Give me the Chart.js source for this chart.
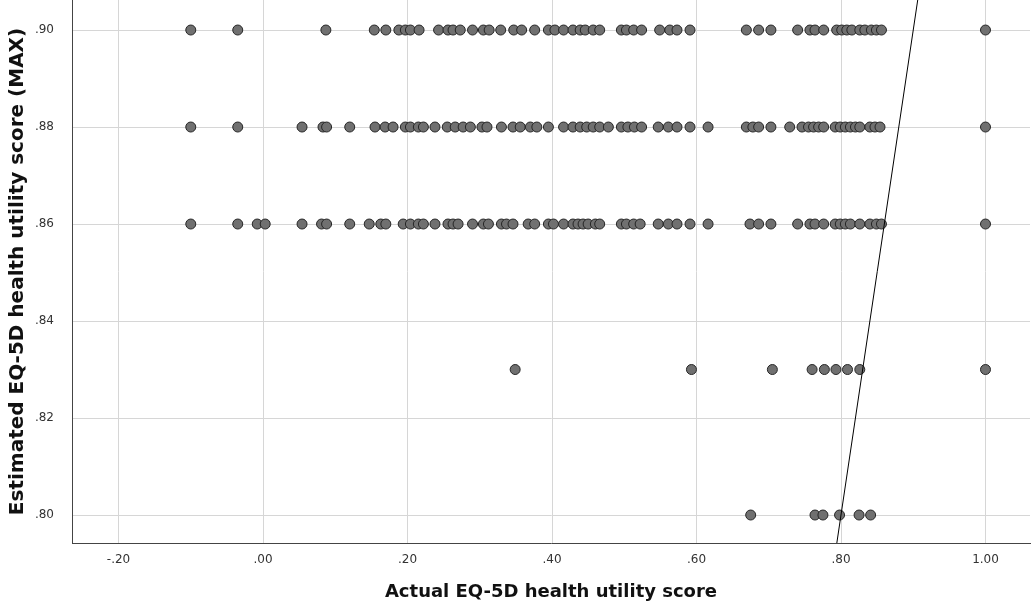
<!DOCTYPE html>
<html>
<head>
<meta charset="utf-8">
<script src="https://cdn.jsdelivr.net/npm/chart.js@4"></script>
<style>
  body { margin: 0; background: #fff; }
  #wrap { width: 1033px; height: 608px; }
</style>
</head>
<body>
<div id="wrap"><canvas id="scatter"></canvas></div>
<script>
// actual score (x) for each estimated score level (y)
var xAt90 = [-0.10, -0.035, 0.087, 0.154, 0.170, 0.188, 0.197, 0.204, 0.216, 0.243, 0.256, 0.263, 0.273, 0.290, 0.305, 0.313,
    0.329, 0.347, 0.358, 0.376, 0.395, 0.404, 0.416, 0.429, 0.439, 0.446, 0.457, 0.466, 0.496, 0.503, 0.513, 0.524,
    0.549, 0.563, 0.573, 0.591, 0.669, 0.686, 0.703, 0.740, 0.757, 0.764, 0.776, 0.794, 0.801, 0.808, 0.815, 0.826,
    0.833, 0.842, 0.849, 0.856, 1.00];
var xAt88 = [-0.10, -0.035, 0.054, 0.083, 0.088, 0.120, 0.155, 0.169, 0.180, 0.197, 0.204, 0.215, 0.222, 0.238, 0.255,
    0.266, 0.277, 0.287, 0.303, 0.310, 0.330, 0.346, 0.356, 0.370, 0.379, 0.395, 0.416, 0.429, 0.439, 0.448, 0.457,
    0.466, 0.478, 0.496, 0.505, 0.514, 0.524, 0.547, 0.561, 0.573, 0.591, 0.616, 0.669, 0.678, 0.686, 0.703, 0.729,
    0.746, 0.755, 0.762, 0.769, 0.776, 0.792, 0.799, 0.806, 0.813, 0.820, 0.826, 0.840, 0.847, 0.854, 1.00];
var xAt86 = [-0.10, -0.035, -0.008, 0.003, 0.054, 0.081, 0.088, 0.120, 0.147, 0.163, 0.170, 0.194, 0.204, 0.215, 0.222,
    0.238, 0.256, 0.263, 0.270, 0.290, 0.305, 0.312, 0.330, 0.337, 0.346, 0.367, 0.376, 0.395, 0.402, 0.416, 0.429,
    0.436, 0.443, 0.450, 0.460, 0.466, 0.496, 0.503, 0.513, 0.522, 0.547, 0.561, 0.573, 0.591, 0.616, 0.674, 0.686,
    0.703, 0.740, 0.757, 0.764, 0.776, 0.792, 0.799, 0.806, 0.813, 0.826, 0.840, 0.849, 0.856, 1.00];
var xAt83 = [0.349, 0.593, 0.705, 0.760, 0.777, 0.793, 0.809, 0.826, 1.00];
var xAt80 = [0.675, 0.764, 0.775, 0.798, 0.825, 0.841];
var levels = [0.90, 0.88, 0.86, 0.83, 0.80];
var rows = [xAt90, xAt88, xAt86, xAt83, xAt80];

// y = x reference line
var refLine = [{x: 0.70, y: 0.70}, {x: 1.00, y: 1.00}];

var xTicks = [-0.20, 0.00, 0.20, 0.40, 0.60, 0.80, 1.00];
var yTicks = [0.80, 0.82, 0.84, 0.86, 0.88, 0.90];

var pts = [];
rows.forEach(function(r, i) {
    r.forEach(function(v) { pts.push({x: v, y: levels[i]}); });
});

function fmt(v) {
    var s = Math.abs(v).toFixed(2);
    if (s.charAt(0) === '0') s = s.substring(1);
    return (v < -1e-9 ? '-' : '') + s;
}

var tickFont = {family: 'DejaVu Sans', size: 12};

new Chart(document.getElementById('scatter'), {
    type: 'scatter',
    data: {
        datasets: [{
            data: refLine,
            showLine: true,
            borderColor: '#000',
            borderWidth: 1,
            pointRadius: 0,
            fill: false
        }, {
            data: pts,
            pointRadius: 5,
            pointHoverRadius: 5,
            pointBackgroundColor: '#707070',
            pointBorderColor: '#262626',
            pointBorderWidth: 1
        }]
    },
    options: {
        responsive: true,
        maintainAspectRatio: false,
        animation: false,
        layout: {autoPadding: false, padding: {left: 0, right: 3, top: 0, bottom: 0}},
        plugins: {legend: {display: false}, tooltip: {enabled: false}},
        scales: {
            x: {
                type: 'linear',
                min: -0.2644,
                max: 1.0616,
                afterBuildTicks: function(s) { s.ticks = xTicks.map(function(v) { return {value: v}; }); },
                afterFit: function(s) { s.height = 65; s.paddingLeft = 0; s.paddingRight = 0; },
                grid: {color: '#d6d6d6', drawTicks: false},
                border: {color: '#444', width: 1},
                ticks: {font: tickFont, color: '#333', padding: 10, maxRotation: 0, callback: function(v) { return fmt(v); }},
                title: {display: true, text: 'Actual EQ-5D health utility score', color: '#111',
                    font: {family: 'DejaVu Sans', size: 18, weight: 'bold'}, padding: {top: 0, bottom: 5}}
            },
            y: {
                type: 'linear',
                min: 0.79423,
                max: 0.90619,
                afterBuildTicks: function(s) { s.ticks = yTicks.map(function(v) { return {value: v}; }); },
                afterFit: function(s) { s.width = 72; s.paddingTop = 0; s.paddingBottom = 0; },
                grid: {color: '#d6d6d6', drawTicks: false},
                border: {color: '#444', width: 1},
                ticks: {font: tickFont, color: '#333', padding: 18, callback: function(v) { return fmt(v); }},
                title: {display: true, text: 'Estimated EQ-5D health utility score (MAX)', color: '#111',
                    font: {family: 'DejaVu Sans', size: 20, weight: 'bold'}, padding: {top: 6, bottom: 0}}
            }
        }
    }
});
</script>
</body>
</html>
